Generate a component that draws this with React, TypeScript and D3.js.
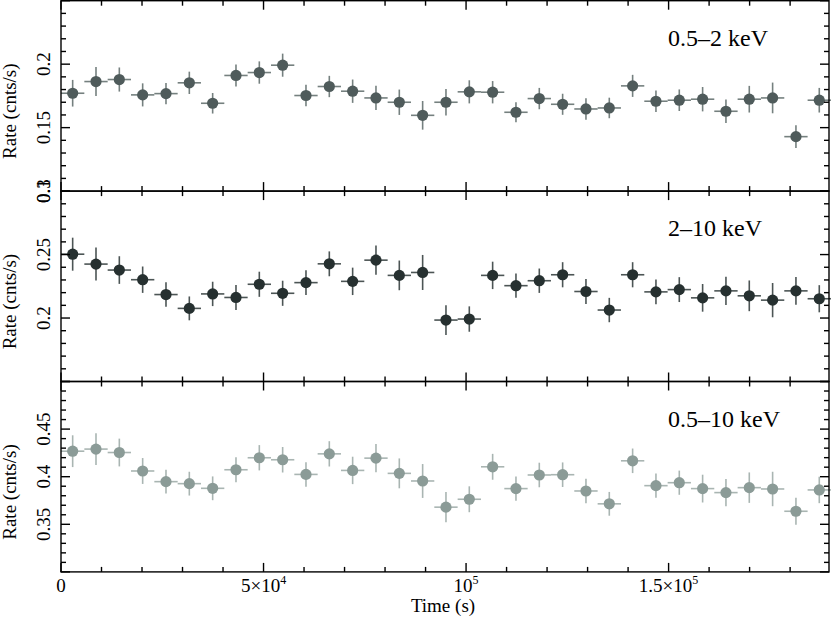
import React, { useEffect, useRef } from "react";
import * as d3 from "d3";

// bin centres (s), each bin is 5760 s wide
const binCenters = [
  2880, 8640, 14400, 20160, 25920, 31680, 37440, 43200, 48960, 54720, 60480,
  66240, 72000, 77760, 83520, 89280, 95040, 100800, 106560, 112320, 118080,
  123840, 129600, 135360, 141120, 146880, 152640, 158400, 164160, 169920,
  175680, 181440, 187200,
];
const binHalfWidth = 2880;

const softRate = [
  0.1771, 0.1863, 0.1879, 0.1758, 0.1768, 0.1853, 0.1692, 0.1911, 0.1934, 0.1992,
  0.1753, 0.1824, 0.1787, 0.1734, 0.17, 0.1597, 0.17, 0.1782, 0.1779, 0.1621,
  0.1729, 0.1684, 0.1647, 0.1655, 0.1829, 0.1708, 0.1716, 0.1724, 0.1629, 0.1724,
  0.1734, 0.1429, 0.1716,
];
const softErr = [
  0.0105, 0.0114, 0.0095, 0.0091, 0.0084, 0.0088, 0.0081, 0.0087, 0.0088, 0.0091,
  0.0084, 0.0084, 0.0092, 0.0095, 0.01, 0.0113, 0.0104, 0.0091, 0.0088, 0.0079,
  0.0084, 0.0083, 0.0084, 0.0081, 0.0087, 0.0084, 0.0085, 0.0096, 0.0093, 0.0105,
  0.0121, 0.0089, 0.0097,
];

const hardRate = [
  0.2503, 0.2425, 0.2378, 0.2302, 0.2185, 0.2076, 0.219, 0.2162, 0.2266, 0.2195,
  0.2279, 0.2427, 0.2289, 0.2456, 0.2336, 0.2359, 0.1984, 0.1992, 0.2336, 0.2255,
  0.2294, 0.2341, 0.2209, 0.2063, 0.2341, 0.2206, 0.2224, 0.2159, 0.2214, 0.2175,
  0.2141, 0.2214, 0.2152,
];
const hardErr = [
  0.013, 0.013, 0.0109, 0.0104, 0.0096, 0.0094, 0.0096, 0.0098, 0.0099, 0.0099,
  0.0098, 0.0098, 0.0108, 0.0115, 0.0117, 0.0138, 0.0117, 0.01, 0.0108, 0.0095,
  0.0096, 0.0099, 0.0098, 0.0096, 0.0099, 0.0098, 0.0098, 0.0109, 0.0112, 0.0121,
  0.0135, 0.0109, 0.0107,
];

const totalRate = [
  0.4268, 0.429, 0.4254, 0.406, 0.3948, 0.3927, 0.3878, 0.4073, 0.4199, 0.4178,
  0.4024, 0.424, 0.4066, 0.4195, 0.4035, 0.3955, 0.368, 0.3763, 0.4104, 0.3875,
  0.4018, 0.4021, 0.385, 0.3715, 0.4167, 0.3906, 0.3937, 0.3875, 0.3833, 0.3885,
  0.3871, 0.3637, 0.3861,
];
const totalErr = [
  0.0167, 0.0167, 0.0146, 0.0136, 0.0125, 0.0125, 0.0125, 0.0131, 0.0133, 0.0134,
  0.0129, 0.0133, 0.0144, 0.0149, 0.0157, 0.0178, 0.0159, 0.0136, 0.0136, 0.0127,
  0.0129, 0.0129, 0.0129, 0.0125, 0.0129, 0.0127, 0.0127, 0.0146, 0.0144, 0.016,
  0.0181, 0.0141, 0.0139,
];

const bandLabels = ["0.5\u20132 keV", "2\u201310 keV", "0.5\u201310 keV"];
const yDomains: [number, number][] = [
  [0.1, 0.25],
  [0.15, 0.3],
  [0.3, 0.5],
];
const yTickLabels = [
  [0.1, 0.15, 0.2],
  [0.2, 0.25, 0.3],
  [0.35, 0.4, 0.45],
];
const xTickValues = [0, 50000, 100000, 150000];
const xTickMantissa = ["0", "5\u00d710", "10", "1.5\u00d710"];
const xTickExponent = ["", "4", "5", "5"];

const markerColors = ["#4f5b5b", "#263030", "#8b9b97"];
const barColors = ["#75807f", "#4c5555", "#a9b5b2"];

const App: React.FC = () => {
  const svgRef = useRef<SVGSVGElement | null>(null);

  useEffect(() => {
    document.body.style.margin = "0";
    const svg = d3.select(svgRef.current);
    svg.selectAll("*").remove();

    const w = 831;
    const h = 620;
    const m = { left: 61, right: 2, top: 0.7 };
    const panelH = 190.4;
    const font = "'Liberation Serif', 'Times New Roman', serif";

    svg.attr("width", w).attr("height", h).style("background", "#fff");

    const x = d3.scaleLinear().domain([0, 189600]).range([m.left, w - m.right]);

    const series = [
      { rate: softRate, err: softErr },
      { rate: hardRate, err: hardErr },
      { rate: totalRate, err: totalErr },
    ];

    const xMinor = d3.range(0, 190000, 10000);

    series.forEach((s, p) => {
      const top = m.top + p * panelH;
      const bottom = top + panelH;
      const y = d3.scaleLinear().domain(yDomains[p]).range([bottom, top]);
      const g = svg.append("g");

      // error bars
      const bars = g.append("g").attr("stroke", barColors[p]).attr("stroke-width", 1.6);
      binCenters.forEach((c, i) => {
        bars.append("line")
          .attr("x1", x(c - binHalfWidth))
          .attr("x2", x(c + binHalfWidth))
          .attr("y1", y(s.rate[i]))
          .attr("y2", y(s.rate[i]));
        bars.append("line")
          .attr("x1", x(c))
          .attr("x2", x(c))
          .attr("y1", y(s.rate[i] - s.err[i]))
          .attr("y2", y(s.rate[i] + s.err[i]));
      });

      g.selectAll("circle")
        .data(binCenters)
        .enter()
        .append("circle")
        .attr("cx", (d) => x(d))
        .attr("cy", (_, i) => y(s.rate[i]))
        .attr("r", 5.6)
        .attr("fill", markerColors[p]);

      // frame + ticks
      const ax = g.append("g").attr("stroke", "#000").attr("stroke-width", 1.4);
      ax.append("rect")
        .attr("x", m.left)
        .attr("y", top)
        .attr("width", w - m.right - m.left)
        .attr("height", panelH)
        .attr("fill", "none");

      xMinor.forEach((t) => {
        const len = t % 50000 === 0 ? 9 : 5;
        ax.append("line").attr("x1", x(t)).attr("x2", x(t)).attr("y1", top).attr("y2", top + len);
        ax.append("line").attr("x1", x(t)).attr("x2", x(t)).attr("y1", bottom).attr("y2", bottom - len);
      });

      const [y0, y1] = yDomains[p];
      d3.range(Math.round(y0 * 100), Math.round(y1 * 100) + 1).forEach((k) => {
        const v = k / 100;
        const len = k % 5 === 0 ? 9 : 5;
        ax.append("line").attr("x1", m.left).attr("x2", m.left + len).attr("y1", y(v)).attr("y2", y(v));
        ax.append("line")
          .attr("x1", w - m.right)
          .attr("x2", w - m.right - len)
          .attr("y1", y(v))
          .attr("y2", y(v));
      });

      yTickLabels[p].forEach((v) => {
        g.append("text")
          .attr("transform", `translate(50, ${y(v)}) rotate(-90)`)
          .attr("text-anchor", "middle")
          .style("font-family", font)
          .style("font-size", "19px")
          .text(String(v));
      });

      g.append("text")
        .attr("transform", `translate(16, ${top + 110.5}) rotate(-90)`)
        .attr("text-anchor", "middle")
        .style("font-family", font)
        .style("font-size", "19px")
        .text("Rate (cnts/s)");

      g.append("text")
        .attr("x", 668)
        .attr("y", top + 45)
        .style("font-family", font)
        .style("font-size", "24px")
        .text(bandLabels[p]);
    });

    // bottom axis labels
    const xl = svg.append("g").style("font-family", font).style("font-size", "19px");
    xTickValues.forEach((t, i) => {
      const txt = xl.append("text").attr("x", x(t)).attr("y", 592).attr("text-anchor", "middle");
      txt.append("tspan").text(xTickMantissa[i]);
      if (xTickExponent[i]) {
        txt.append("tspan").attr("dy", -8).style("font-size", "12px").text(xTickExponent[i]);
      }
    });

    xl.append("text")
      .attr("x", (m.left + w - m.right) / 2 - 2)
      .attr("y", 612)
      .attr("text-anchor", "middle")
      .text("Time (s)");
  }, []);

  return <svg ref={svgRef}></svg>;
};

export default App;
